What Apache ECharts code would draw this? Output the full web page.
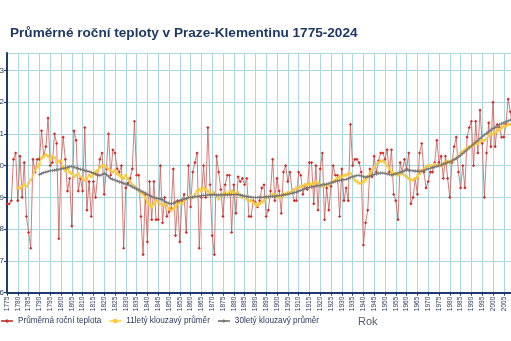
<!DOCTYPE html>
<html><head><meta charset="utf-8">
<script src="https://cdn.jsdelivr.net/npm/echarts@6/dist/echarts.min.js"></script>
<style>html,body{margin:0;padding:0;background:#fff}#c{width:511px;height:341px}</style>
</head><body><div id="c"></div>
<script>
// ---- data ----
const titleText = 'Průměrné roční teploty v Praze-Klementinu 1775-2024';
const seriesNames = ['Průměrná roční teplota', '11letý klouzavý průměr', '30letý klouzavý průměr'];
const axisNameX = 'Rok';
const firstYear = 1775;
const lastYear = 2024;
const annualTemp = [
 8.8, 8.8, 8.9, 10.2, 10.4, 8.9, 10.3, 9.0, 10.1, 8.4,
 7.9, 7.4, 10.2, 9.8, 10.2, 10.2, 11.1, 10.3, 10.6, 11.5,
 10.0, 10.1, 11.0, 10.7, 7.7, 10.1, 10.9, 10.2, 9.2, 9.6,
 8.1, 11.1, 10.8, 9.2, 9.6, 9.2, 11.2, 8.6, 9.5, 8.4,
 9.5, 9.0, 9.7, 10.2, 10.4, 9.1, 9.9, 11.0, 9.7, 10.5,
 10.4, 9.9, 9.8, 10.0, 7.4, 9.3, 9.45, 9.6, 9.9, 11.4,
 9.7, 9.7, 8.4, 7.2, 9.1, 7.6, 9.5, 8.3, 9.5, 8.3,
 8.3, 10.0, 8.2, 9.0, 8.4, 8.55, 8.65, 9.9, 7.8, 8.9,
 7.6, 8.9, 9.1, 7.9, 10.0, 8.7, 9.8, 10.1, 10.4, 7.4,
 9.0, 10.0, 9.0, 11.2, 9.4, 7.8, 7.2, 10.3, 9.8, 9.25,
 8.4, 9.4, 9.7, 9.7, 7.9, 9.4, 8.5, 9.65, 9.5, 9.6,
 9.4, 9.6, 8.4, 8.4, 8.9, 8.85, 8.7, 8.9, 9.3, 9.4,
 8.4, 8.6, 9.2, 10.2, 8.9, 9.6, 9.2, 8.5, 9.8, 10.0,
 9.5, 9.8, 9.2, 8.9, 8.9, 9.8, 9.7, 9.1, 9.4, 9.25,
 10.1, 10.1, 8.8, 10.0, 8.6, 9.9, 10.4, 8.3, 9.3, 8.6,
 9.35, 10.0, 9.7, 9.7, 8.4, 9.9, 8.9, 9.3, 8.9, 11.3,
 10.0, 10.2, 10.2, 10.1, 9.8, 7.5, 8.2, 8.6, 9.9, 9.65,
 10.3, 9.8, 10.15, 10.4, 10.4, 10.2, 10.5, 9.8, 10.5, 9.1,
 8.9, 8.3, 10.1, 9.8, 10.2, 9.9, 10.4, 8.8, 9.0, 9.6,
 9.1, 10.4, 10.7, 9.8, 9.3, 9.5, 9.8, 9.8, 10.1, 10.8,
 10.1, 10.3, 9.6, 10.3, 9.6, 9.0, 10.1, 10.6, 10.9, 9.8,
 9.3, 10.0, 9.3, 10.9, 11.2, 11.4, 10.0, 11.4, 10.4, 11.75,
 10.7, 9.0, 10.4, 11.35, 10.6, 12.0, 10.6, 11.3, 11.2, 10.9,
 10.9, 11.3, 12.1, 11.7, 11.3, 9.9, 11.5, 11.4, 11.0, 12.4,
 12.3, 11.7, 11.8, 12.6, 12.5, 12.2, 11.0, 12.3, 12.5, 12.9
];
const ma11FirstYear = 1780;
const ma11 = [
 9.30, 9.30, 9.35, 9.40, 9.35, 9.45, 9.55, 9.70, 9.85, 9.95,
 10.05, 10.25, 10.30, 10.35, 10.30, 10.20, 10.30, 10.25, 10.10, 10.15,
 10.15, 9.95, 9.85, 9.90, 9.80, 9.75, 9.65, 9.70, 9.75, 9.65,
 9.60, 9.55, 9.60, 9.70, 9.65, 9.75, 9.80, 9.85, 9.95, 10.00,
 10.00, 9.95, 9.90, 9.85, 9.80, 9.85, 9.75, 9.70, 9.65, 9.60,
 9.70, 9.60, 9.50, 9.40, 9.35, 9.30, 9.20, 9.15, 9.10, 9.00,
 8.85, 8.75, 8.70, 8.80, 8.90, 8.85, 8.80, 8.75, 8.80, 8.75,
 8.65, 8.60, 8.65, 8.70, 8.80, 8.85, 8.80, 8.90, 8.95, 9.00,
 9.05, 9.00, 9.10, 9.20, 9.25, 9.20, 9.30, 9.25, 9.20, 9.15,
 9.10, 9.15, 9.05, 8.95, 9.05, 9.10, 9.15, 9.10, 9.15, 9.20,
 9.15, 9.10, 9.15, 9.05, 9.00, 9.05, 8.95, 8.90, 8.90, 8.85,
 8.80, 8.75, 8.80, 8.85, 8.90, 9.00, 9.00, 9.05, 9.10, 9.10,
 9.05, 9.00, 9.05, 9.10, 9.10, 9.15, 9.15, 9.20, 9.25, 9.30,
 9.30, 9.35, 9.35, 9.40, 9.40, 9.45, 9.40, 9.45, 9.50, 9.45,
 9.40, 9.35, 9.35, 9.40, 9.40, 9.45, 9.50, 9.55, 9.60, 9.65,
 9.65, 9.70, 9.70, 9.75, 9.75, 9.65, 9.55, 9.50, 9.45, 9.45,
 9.50, 9.55, 9.65, 9.75, 9.85, 9.95, 10.05, 10.10, 10.15, 10.15,
 10.10, 10.00, 9.90, 9.80, 9.75, 9.75, 9.70, 9.75, 9.75, 9.70,
 9.65, 9.60, 9.55, 9.55, 9.60, 9.65, 9.75, 9.85, 9.90, 9.95,
 10.00, 10.00, 10.00, 10.05, 10.00, 10.00, 10.00, 10.05, 10.10, 10.15,
 10.10, 10.15, 10.20, 10.25, 10.30, 10.40, 10.45, 10.50, 10.55, 10.60,
 10.60, 10.65, 10.70, 10.70, 10.75, 10.80, 10.80, 10.85, 10.95, 11.00,
 11.00, 11.05, 11.10, 11.15, 11.20, 11.25, 11.25, 11.30, 11.30, 11.35,
 11.40, 11.50, 11.55, 11.65, 11.70, 11.80, 11.85, 11.90, 11.95, 12.00
];
const ma30FirstYear = 1790;
const ma30 = [
 9.72, 9.75, 9.78, 9.80, 9.82, 9.84, 9.85, 9.86, 9.87, 9.88,
 9.90, 9.91, 9.93, 9.95, 9.97, 9.98, 9.96, 9.93, 9.91, 9.89,
 9.87, 9.85, 9.83, 9.82, 9.79, 9.76, 9.74, 9.71, 9.69, 9.72,
 9.76, 9.72, 9.66, 9.60, 9.57, 9.55, 9.52, 9.49, 9.47, 9.45,
 9.42, 9.40, 9.37, 9.33, 9.30, 9.27, 9.24, 9.20, 9.17, 9.14,
 9.10, 9.07, 9.03, 9.00, 8.98, 8.96, 8.95, 8.93, 8.88, 8.84,
 8.82, 8.80, 8.82, 8.85, 8.87, 8.90, 8.93, 8.95, 8.97, 9.00,
 9.00, 9.01, 9.02, 9.03, 9.04, 9.06, 9.07, 9.07, 9.08, 9.08,
 9.08, 9.09, 9.08, 9.08, 9.08, 9.08, 9.09, 9.08, 9.09, 9.09,
 9.09, 9.10, 9.09, 9.08, 9.06, 9.04, 9.03, 9.02, 9.01, 9.00,
 9.00, 9.00, 9.01, 9.00, 9.01, 9.02, 9.02, 9.03, 9.03, 9.04,
 9.05, 9.06, 9.07, 9.08, 9.09, 9.10, 9.12, 9.13, 9.15, 9.17,
 9.20, 9.22, 9.25, 9.28, 9.30, 9.32, 9.33, 9.34, 9.36, 9.37,
 9.38, 9.40, 9.41, 9.42, 9.44, 9.46, 9.48, 9.50, 9.52, 9.54,
 9.55, 9.56, 9.57, 9.59, 9.62, 9.65, 9.67, 9.69, 9.70, 9.68,
 9.65, 9.64, 9.65, 9.67, 9.70, 9.72, 9.74, 9.76, 9.77, 9.77,
 9.76, 9.74, 9.72, 9.71, 9.72, 9.74, 9.77, 9.79, 9.81, 9.84,
 9.86, 9.86, 9.85, 9.84, 9.83, 9.83, 9.82, 9.83, 9.85, 9.88,
 9.90, 9.92, 9.94, 9.96, 9.98, 10.00, 10.02, 10.05, 10.08, 10.10,
 10.12, 10.15, 10.19, 10.23, 10.28, 10.33, 10.38, 10.44, 10.50, 10.56,
 10.62, 10.68, 10.74, 10.80, 10.86, 10.92, 10.97, 11.02, 11.07, 11.12,
 11.17, 11.21, 11.25, 11.29, 11.32, 11.35, 11.38, 11.41, 11.44, 11.47
];
const yMin = 6, yMax = 13.55, yStep = 1;
const xMin = 1775, xMax = 2025, xStep = 5;

// ---- build chart ----
const pairs = (start, arr) => arr.map((v, i) => [start + i, v]);
const FONT = 'Liberation Sans, Arial, sans-serif';
const chart = echarts.init(document.getElementById('c'), null, {renderer: 'canvas'});
chart.setOption({
  animation: false,
  backgroundColor: '#ffffff',
  title: [
    {text: titleText, left: 10, top: 26, padding: 0,
     textStyle: {fontFamily: FONT, fontSize: 13.6, fontWeight: 'bold', color: '#1F3864'}},
    {text: axisNameX, left: 358, top: 316, padding: 0,
     textStyle: {fontFamily: FONT, fontSize: 11, fontWeight: 'normal', color: '#555b6e'}}
  ],
  legend: {
    left: 0, top: 317, padding: 0, itemWidth: 12, itemHeight: 5, itemGap: 7,
    textStyle: {fontFamily: FONT, fontSize: 8.2, color: '#2a3960'},
    data: seriesNames
  },
  grid: {left: 7, top: 53, width: 540, bottom: 48.3, containLabel: false, outerBoundsMode: 'none'},
  xAxis: {
    type: 'value', min: xMin, max: xMax, interval: xStep,
    axisLine: {show: true, lineStyle: {color: '#1F3A6E', width: 2}},
    axisTick: {show: true, length: 3, lineStyle: {color: '#1F3A6E', width: 1}},
    axisLabel: {rotate: 90, fontSize: 6.5, fontFamily: FONT, color: '#2a3960', margin: 4,
                formatter: v => String(v)},
    splitLine: {show: true, lineStyle: {color: '#A9D8DF', width: 1}}
  },
  yAxis: {
    type: 'value', min: yMin, max: yMax, interval: yStep,
    axisLine: {show: true, lineStyle: {color: '#1F3A6E', width: 2}},
    axisTick: {show: true, length: 3, lineStyle: {color: '#1F3A6E', width: 1}},
    axisLabel: {fontSize: 8, fontFamily: FONT, color: '#2a3960', margin: 3, showMaxLabel: false},
    splitLine: {show: true, lineStyle: {color: '#A9D8DF', width: 1}}
  },
  series: [
    {name: seriesNames[0], type: 'line', data: pairs(firstYear, annualTemp),
     symbol: 'diamond', symbolSize: 3.2, showAllSymbol: true,
     lineStyle: {color: '#C85A55', width: 0.8},
     itemStyle: {color: '#D42A2A'}, z: 2},
    {name: seriesNames[1], type: 'line', data: pairs(ma11FirstYear, ma11),
     symbol: 'rect', symbolSize: 2.8, showAllSymbol: true,
     lineStyle: {color: '#FFDA66', width: 1.3},
     itemStyle: {color: '#F9C940'}, z: 3},
    {name: seriesNames[2], type: 'line', data: pairs(ma30FirstYear, ma30),
     symbol: 'path://M4,0H6V4H10V6H6V10H4V6H0V4H4Z', symbolSize: 3.5, showAllSymbol: true,
     lineStyle: {color: '#8A8A8A', width: 1.1},
     itemStyle: {color: '#707070'}, z: 4}
  ]
});
</script></body></html>
